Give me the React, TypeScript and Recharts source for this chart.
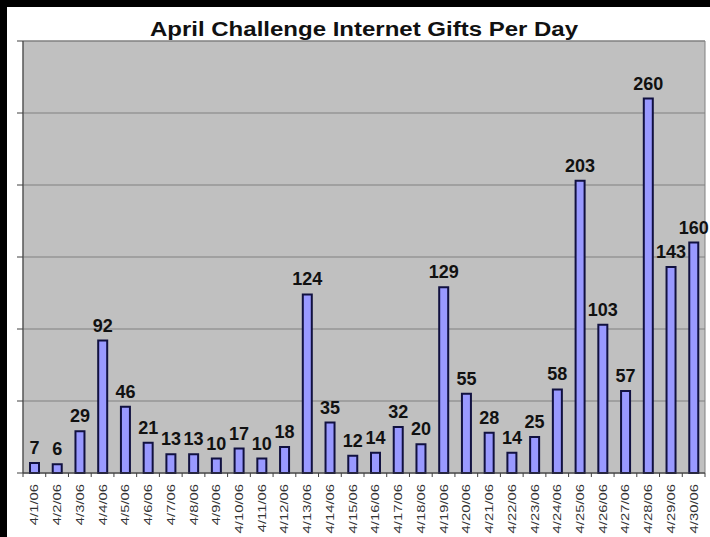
import React from 'react';
import { BarChart, Bar, XAxis, YAxis, CartesianGrid, LabelList, ReferenceArea } from 'recharts';

const days = [
  '4/1/06', '4/2/06', '4/3/06', '4/4/06', '4/5/06', '4/6/06', '4/7/06', '4/8/06', '4/9/06', '4/10/06',
  '4/11/06', '4/12/06', '4/13/06', '4/14/06', '4/15/06', '4/16/06', '4/17/06', '4/18/06', '4/19/06', '4/20/06',
  '4/21/06', '4/22/06', '4/23/06', '4/24/06', '4/25/06', '4/26/06', '4/27/06', '4/28/06', '4/29/06', '4/30/06',
];
const gifts = [7, 6, 29, 92, 46, 21, 13, 13, 10, 17, 10, 18, 124, 35, 12, 14, 32, 20, 129, 55, 28, 14, 25, 58, 203, 103, 57, 260, 143, 160];
const yTicks = [0, 50, 100, 150, 200, 250, 300];

const data = days.map((day, i) => ({ day, gifts: gifts[i] }));

const DayTick = (props: any) => {
  const { x, y, payload, index } = props;
  const half = payload && payload.offset ? payload.offset : 682 / 30 / 2;
  return (
    <g>
      <line x1={x - half} y1={y} x2={x - half} y2={y + 4} stroke="#404040" />
      {index === days.length - 1 && (
        <line x1={x + half} y1={y} x2={x + half} y2={y + 4} stroke="#404040" />
      )}
      <text
        transform={`translate(${x + 4},${y + 11}) rotate(-90) scale(1.35,1)`}
        textAnchor="end"
        fontSize={11}
        fontFamily="Arial, 'Liberation Sans', sans-serif"
        fill="#333"
      >
        {payload.value}
      </text>
    </g>
  );
};

export default function App() {
  return (
    <div style={{ position: 'absolute', left: 0, top: 0, width: 710, height: 537, background: '#000' }}>
      <div style={{ position: 'absolute', left: 7, top: 7, right: 0, bottom: 0, background: '#fff' }} />
      <div
        style={{
          position: 'absolute', left: 0, top: 19, width: 728, textAlign: 'center',
          fontFamily: "Arial, 'Liberation Sans', sans-serif", fontWeight: 'bold', fontSize: 20,
          lineHeight: '20px', color: '#111', transform: 'scaleX(1.2)', transformOrigin: '364px 0',
        }}
      >
        April Challenge Internet Gifts Per Day
      </div>
      <div style={{ position: 'absolute', left: 0, top: 0 }}>
        <BarChart
          width={710}
          height={537}
          data={data}
          margin={{ top: 41, right: 5, left: 17, bottom: 4 }}
          barCategoryGap={0}
        >
          <CartesianGrid vertical={false} stroke="#808080" fill="#c0c0c0" />
          <ReferenceArea y1={0} y2={300} fill="none" stroke="#808080" ifOverflow="visible" />
          <XAxis
            dataKey="day"
            interval={0}
            height={60}
            tickSize={0}
            tickMargin={0}
            tickLine={false}
            stroke="#404040"
            tick={<DayTick />}
          />
          <YAxis
            domain={[0, 300]}
            ticks={yTicks}
            width={6}
            tickSize={6}
            stroke="#404040"
            tick={() => <g />}
          />
          <Bar dataKey="gifts" barSize={9} fill="#9999ff" stroke="#111140" strokeWidth={2} isAnimationActive={false}>
            <LabelList
              dataKey="gifts"
              position="top"
              offset={9}
              fill="#111"
              fontSize={18}
              fontWeight="bold"
              fontFamily="Arial, 'Liberation Sans', sans-serif"
            />
          </Bar>
        </BarChart>
      </div>
    </div>
  );
}
